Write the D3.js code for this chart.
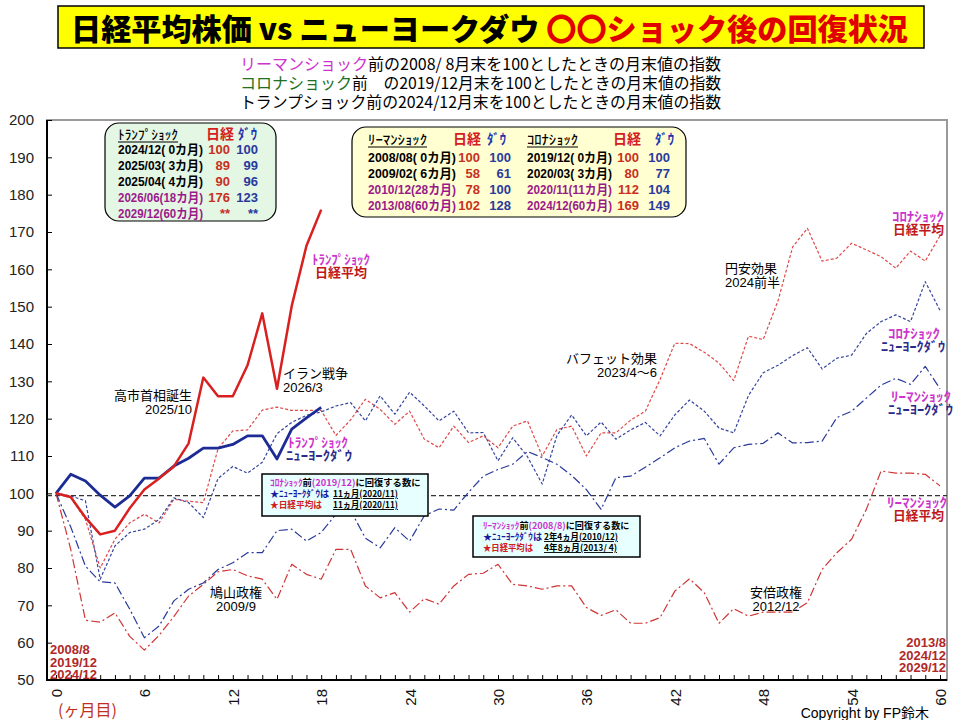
<!DOCTYPE html>
<html><head><meta charset="utf-8">
<script src="https://cdn.jsdelivr.net/npm/d3@7"></script>
<style>body{margin:0;background:#fff}svg{display:block}</style>
</head><body>
<svg id="c" width="960" height="720"></svg>
<script>
// ---------------- data ----------------
const titleMain = "日経平均株価 vs ニューヨークダウ ";
const titleSub = "〇〇ショック後の回復状況";
const monthTicks = d3.range(0, 61);
const xLabelMonths = [0, 6, 12, 18, 24, 30, 36, 42, 48, 54, 60];
const yTicks = [50, 60, 70, 80, 90, 100, 110, 120, 130, 140, 150, 160, 170, 180, 190, 200];
const refLevel = 99.4;

const trumpNikkei = [100, 99, 93.5, 89, 90, 96, 101, 104, 107.2, 113.4, 131, 126, 126, 134.3, 148.2, 128, 150.2, 166.3, 176];
const trumpDow = [100, 105.1, 103.3, 99.5, 96.3, 99.3, 104.1, 104.1, 107.3, 109.4, 112.1, 112.1, 113.1, 115.4, 115.4, 109.2, 117.2, 120.2, 123];

const coronaNikkei = [100, 98.8, 93, 80, 87.7, 92.1, 94.4, 92.1, 98.4, 97.9, 97.5, 112, 116.7, 117, 122.3, 123.1, 122.2, 122.2, 122.2, 115.5,
  119.7, 125.2, 122.5, 118.5, 122, 114.5, 112.2, 118, 113.6, 115.4, 112.2, 118, 119.4, 110, 117.1, 118, 110, 116.2, 116.2, 119.6,
  122, 130.5, 140.2, 140.1, 137.8, 134.9, 130.2, 142.1, 141.2, 151.5, 166, 171, 162.2, 163, 167, 165.2, 163.4, 160.3, 164.9, 162.2, 169];
const coronaDow = [100, 99.3, 98, 77, 85.9, 89.5, 90.4, 93, 98.8, 97.5, 93.5, 104, 107.2, 105.4, 108.3, 116, 119, 120.9, 121.8, 123.4,
  124.3, 119.4, 126.1, 121.2, 127.1, 123.4, 119.4, 122, 116.2, 116.3, 108.7, 114.9, 109.8, 102.5, 115.5, 121, 115.4, 119.1, 114.5, 117,
  119, 115.4, 121, 125, 122, 117.5, 116.2, 126.2, 132.3, 134.3, 136.9, 139, 133.3, 136.2, 137, 142.8, 146, 147.8, 146, 156.7, 149];
const lehmanNikkei = [100, 85, 66, 65.5, 68, 61.7, 58, 62, 67, 72.5, 75.6, 79, 79.6, 77.9, 77, 71.6, 81, 78.3, 77, 85,
  85, 75.2, 72, 73.4, 68.2, 71.8, 70.3, 75.2, 78.3, 78.6, 81, 75.6, 75.2, 74.3, 75.2, 75.2, 69.4, 67.3, 68.8, 65.2,
  65.2, 66.7, 73.8, 77.1, 73.4, 65.2, 69.1, 67.1, 68.2, 68.2, 68.2, 70.7, 79.6, 84.1, 87.7, 95.7, 106, 105.4, 105.4, 105.1, 102];
const lehmanDow = [100, 91, 80.5, 76.3, 76, 69, 61.3, 64.5, 71.2, 74.3, 76, 79.6, 81.4, 84.1, 84.1, 90, 90.4, 87.2, 89.5, 94.4,
  95.4, 88, 85.4, 90.8, 87.2, 94, 95.8, 95.5, 100.3, 104.6, 106.4, 107.8, 111.2, 109.6, 107.8, 104.8, 101, 95.7, 104.2, 104.6,
  107, 109.5, 112.2, 114, 114.7, 107.8, 112.2, 113.1, 113.4, 116.2, 113.5, 113.6, 114, 120.3, 122, 125.5, 129, 130.8, 129.2, 134, 128];

const trumpLabels = ["2024/12( 0カ月)", "2025/03( 3カ月)", "2025/04( 4カ月)", "2026/06(18カ月)", "2029/12(60カ月)"];
const trumpNk = ["100", "89", "90", "176", "**"];
const trumpDw = ["100", "99", "96", "123", "**"];
const lehmanLabels = ["2008/08( 0カ月)", "2009/02( 6カ月)", "2010/12(28カ月)", "2013/08(60カ月)"];
const lehmanNk = ["100", "58", "78", "102"];
const lehmanDw = ["100", "61", "100", "128"];
const coronaLabels = ["2019/12( 0カ月)", "2020/03( 3カ月)", "2020/11(11カ月)", "2024/12(60カ月)"];
const coronaNk = ["100", "80", "112", "169"];
const coronaDw = ["100", "77", "104", "149"];

// ---------------- setup ----------------
const JP = "'Noto Sans CJK JP','Noto Sans',sans-serif";
const NUM = "'Liberation Sans','Noto Sans CJK JP',sans-serif";
const MAG = "#cc33cc", PUR = "#9a1a8a", RED = "#c8301e", BLU = "#2a3a9c", NRED = "#c01818", NAVY = "#2a2a8a";
const svg = d3.select("#c");
const x = d3.scaleLinear().domain([0, 60]).range([56, 940]);
const y = d3.scaleLinear().domain([50, 200]).range([680, 120]);

// one <text> element; each leaf is a tspan (optionally positioned / length-fitted)
function multi(o, leaves) {
  const t = svg.append("text")
    .attr("font-family", o.family || JP).attr("font-size", o.size || 13)
    .attr("font-weight", o.weight || 400).attr("text-anchor", o.anchor || "start");
  if (o.len) t.attr("textLength", o.len).attr("lengthAdjust", "spacingAndGlyphs");
  leaves.forEach(l => {
    const s = t.append("tspan").attr("fill", l.c || "#000").text(l.t);
    if (l.x != null) s.attr("x", l.x);
    if (l.y != null) s.attr("y", l.y);
    if (l.len) s.attr("textLength", l.len).attr("lengthAdjust", "spacingAndGlyphs");
    if (l.u) s.attr("text-decoration", "underline");
    if (l.size) s.attr("font-size", l.size);
    if (l.fam) s.attr("font-family", l.fam);
    if (l.w) s.attr("font-weight", l.w);
  });
  return t;
}

// ---------------- title ----------------
svg.append("rect").attr("x", 58).attr("y", 6).attr("width", 866).attr("height", 42)
  .attr("fill", "#ffff00").attr("stroke", "#000").attr("stroke-width", 1.5);
multi({ size: 30, weight: 900, len: 837 }, [{ t: titleMain, c: "#000", x: 71, y: 40 }, { t: titleSub, c: "#e00000" }]);

multi({ size: 16 }, [
  { t: "リーマンショック", c: MAG, x: 240, y: 70, len: 128 },
  { t: "前の2008/ 8月末を100としたときの月末値の指数", len: 353 },
  { t: "コロナショック", c: "#207020", x: 240, y: 89, len: 112 },
  { t: "前　の2019/12月末を100としたときの月末値の指数", len: 369 },
  { t: "トランプショック前の2024/12月末を100としたときの月末値の指数", x: 240, y: 108, len: 481 }
]);

// ---------------- frame & axes ----------------
svg.append("rect").attr("x", 47).attr("y", 120).attr("width", 900).attr("height", 560)
  .attr("fill", "none").attr("stroke", "#9a9a9a").attr("stroke-width", 2);

const yAx = svg.append("g").attr("transform", "translate(47,0)")
  .call(d3.axisLeft(y).tickValues(yTicks).tickSizeInner(-5).tickSizeOuter(0).tickPadding(13));
yAx.select(".domain").remove();
yAx.selectAll("line").attr("stroke", "#000");
yAx.selectAll("text").attr("font-family", NUM).attr("font-size", 15).attr("fill", "#222");

const xAx = svg.append("g").attr("transform", "translate(0,680)")
  .call(d3.axisBottom(x).tickValues(monthTicks).tickSizeInner(-5).tickSizeOuter(0)
    .tickFormat(d => xLabelMonths.includes(d) ? d : ""));
xAx.select(".domain").remove();
xAx.selectAll("line").attr("stroke", "#000");
xAx.selectAll("text").attr("font-family", NUM).attr("font-size", 15).attr("fill", "#111")
  .attr("transform", "rotate(-90)").attr("text-anchor", "end").attr("x", -9).attr("y", 0).attr("dy", "0.36em");

svg.append("line").attr("x1", 47).attr("x2", 947).attr("y1", 680).attr("y2", 680).attr("stroke", "#000").attr("stroke-width", 2);
svg.append("line").attr("x1", 47).attr("x2", 47).attr("y1", 120).attr("y2", 681).attr("stroke", "#000").attr("stroke-width", 2);

svg.append("line").attr("x1", 47).attr("x2", 947).attr("y1", y(refLevel)).attr("y2", y(refLevel))
  .attr("stroke", "#333").attr("stroke-width", 1.2).attr("stroke-dasharray", "5,3");

// ---------------- series ----------------
const line = d3.line().x((d, i) => x(i)).y(d => y(d));
const series = [
  { d: lehmanNikkei, c: "#d03434", w: 1.2, dash: "9,3,2,3" },
  { d: lehmanDow, c: "#2a3a9a", w: 1.2, dash: "9,3,2,3" },
  { d: coronaNikkei, c: "#e04848", w: 1.2, dash: "3,2" },
  { d: coronaDow, c: "#34449c", w: 1.2, dash: "3,2" },
  { d: trumpDow, c: "#1c2c94", w: 2.8, dash: null },
  { d: trumpNikkei, c: "#d82020", w: 2.5, dash: null }
];
series.forEach(s => {
  const p = svg.append("path").datum(s.d).attr("d", line).attr("fill", "none")
    .attr("stroke", s.c).attr("stroke-width", s.w).attr("stroke-linejoin", "round");
  if (s.dash) p.attr("stroke-dasharray", s.dash);
});

// ---------------- legend boxes ----------------
function column(xp, rows, vals, colorFn, opts) {
  multi(Object.assign({ family: NUM, size: 13, weight: 700 }, opts),
    vals.map((v, i) => ({ t: v, c: colorFn(i), x: xp, y: rows[i], len: opts.lenFn ? opts.lenFn(i) : null })));
}

svg.append("rect").attr("x", 105).attr("y", 123).attr("width", 171).attr("height", 98).attr("rx", 14)
  .attr("fill", "#e4f6e4").attr("stroke", "#000").attr("stroke-width", 1.2);
multi({ size: 13, weight: 500 }, [{ t: "ﾄﾗﾝﾌﾟｼｮｯｸ", x: 118, y: 139, len: 60 }]);
svg.append("line").attr("x1", 118).attr("x2", 178).attr("y1", 142).attr("y2", 142).attr("stroke", "#000");
multi({ size: 14, weight: 700 }, [{ t: "日経", c: "#d42020", x: 206, y: 139 }, { t: "ﾀﾞｳ", c: "#2030b0", x: 238, len: 19 }]);
const tRows = [154, 170, 186, 202, 218];
column(118, tRows, trumpLabels, i => i >= 3 ? PUR : "#000", { lenFn: () => 85 });
column(230, tRows, trumpNk, () => RED, { anchor: "end" });
column(258, tRows, trumpDw, () => BLU, { anchor: "end" });

svg.append("rect").attr("x", 352).attr("y", 127).attr("width", 334).attr("height", 90).attr("rx", 14)
  .attr("fill", "#ffffd2").attr("stroke", "#000").attr("stroke-width", 1.2);
multi({ size: 13, weight: 500 }, [{ t: "ﾘｰﾏﾝｼｮｯｸ", x: 368, y: 144, len: 59 }, { t: "ｺﾛﾅｼｮｯｸ", x: 527, len: 51 }]);
svg.append("line").attr("x1", 368).attr("x2", 427).attr("y1", 147).attr("y2", 147).attr("stroke", "#000");
svg.append("line").attr("x1", 527).attr("x2", 578).attr("y1", 147).attr("y2", 147).attr("stroke", "#000");
multi({ size: 14, weight: 700 }, [
  { t: "日経", c: "#d42020", x: 453, y: 144 }, { t: "ﾀﾞｳ", c: "#2030b0", x: 487, len: 19 },
  { t: "日経", c: "#d42020", x: 613 }, { t: "ﾀﾞｳ", c: "#2030b0", x: 655, len: 19 }
]);
const bRows = [162, 178, 194, 210];
column(368, bRows, lehmanLabels, i => i >= 2 ? PUR : "#000", { lenFn: () => 88 });
column(480, bRows, lehmanNk, () => RED, { anchor: "end" });
column(511, bRows, lehmanDw, () => BLU, { anchor: "end" });
column(527, bRows, coronaLabels, i => i >= 2 ? PUR : "#000", { lenFn: () => 85 });
column(639, bRows, coronaNk, () => RED, { anchor: "end" });
column(670, bRows, coronaDw, () => BLU, { anchor: "end" });

// ---------------- recovery boxes ----------------
svg.append("rect").attr("x", 262).attr("y", 474).attr("width", 166).attr("height", 42)
  .attr("fill", "#e8ffff").attr("stroke", "#000").attr("stroke-width", 1.5);
multi({ size: 9.3, weight: 700 }, [
  { t: "ｺﾛﾅｼｮｯｸ", c: MAG, x: 270, y: 486 }, { t: "前" }, { t: "(2019/12)", c: MAG }, { t: "に回復する数に" },
  { t: "★ﾆｭｰﾖｰｸﾀﾞｳは", c: "#1a1aa0", x: 270, y: 497, len: 59 },
  { t: "11ヵ月(2020/11)", x: 333, u: true, len: 65 },
  { t: "★日経平均は", c: "#d02020", x: 270, y: 508, len: 52 },
  { t: "11ヵ月(2020/11)", x: 333, u: true, len: 65 }
]);

svg.append("rect").attr("x", 473).attr("y", 516).attr("width", 167).attr("height", 41)
  .attr("fill", "#e8ffff").attr("stroke", "#000").attr("stroke-width", 1.5);
multi({ size: 9.1, weight: 700 }, [
  { t: "ﾘｰﾏﾝｼｮｯｸ", c: MAG, x: 483, y: 529 }, { t: "前" }, { t: "(2008/8)", c: MAG }, { t: "に回復する数に" },
  { t: "★ﾆｭｰﾖｰｸﾀﾞｳは", c: "#1a1aa0", x: 483, y: 540, len: 59 },
  { t: "2年4ヵ月(2010/12)", x: 544, u: true, len: 74 },
  { t: "★日経平均は", c: "#d02020", x: 483, y: 551, len: 50 },
  { t: "4年8ヵ月(2013/ 4)", x: 544, u: true, len: 73 }
]);

// ---------------- event annotations ----------------
function note(anchor, xp, y1, a, b) {
  multi({ size: 13, anchor: anchor }, [{ t: a, x: xp, y: y1 }, { t: b, x: xp, y: y1 + 13.5, fam: NUM }]);
}
note("end", 192, 400, "高市首相誕生", "2025/10");
note("start", 283, 378, "イラン戦争", "2026/3");
note("middle", 236, 597, "鳩山政権", "2009/9");
note("end", 657, 363, "バフェット効果", "2023/4〜6");
note("start", 725, 273, "円安効果", "2024前半");
note("middle", 776, 597, "安倍政権", "2012/12");

// ---------------- series labels ----------------
function slabel(x1, x2, y1, a, b, cb, la, lb) {
  multi({ size: 13, weight: 700 }, [{ t: a, c: MAG, x: x1, y: y1, len: la }, { t: b, c: cb, x: x2, y: y1 + 12.5, len: lb }]);
}
slabel(312, 315, 264, "ﾄﾗﾝﾌﾟｼｮｯｸ", "日経平均", NRED, 58, 52);
slabel(288, 286, 447, "ﾄﾗﾝﾌﾟｼｮｯｸ", "ﾆｭｰﾖｰｸﾀﾞｳ", NAVY, 60, 66);
slabel(892, 893, 221, "ｺﾛﾅｼｮｯｸ", "日経平均", NRED, 52, 51);
slabel(888, 881, 338, "ｺﾛﾅｼｮｯｸ", "ﾆｭｰﾖｰｸﾀﾞｳ", NAVY, 52, 64);
slabel(891, 888, 401, "ﾘｰﾏﾝｼｮｯｸ", "ﾆｭｰﾖｰｸﾀﾞｳ", NAVY, 60, 65);
slabel(887, 893, 507, "ﾘｰﾏﾝｼｮｯｸ", "日経平均", NRED, 60, 51);

// ---------------- period labels ----------------
const DR = "#b02828";
multi({ family: NUM, size: 13, weight: 700 }, [
  { t: "2008/8", c: DR, x: 50, y: 654 }, { t: "2019/12", c: DR, x: 50, y: 667 }, { t: "2024/12", c: DR, x: 50, y: 679 }
]);
multi({ family: NUM, size: 13, weight: 700, anchor: "end" }, [
  { t: "2013/8", c: DR, x: 946, y: 647 }, { t: "2024/12", c: DR, x: 946, y: 660 }, { t: "2029/12", c: DR, x: 946, y: 672 }
]);

multi({ size: 16 }, [{ t: "(ヶ月目)", c: "#c03020", x: 58, y: 716 }]);
multi({ family: NUM, size: 14, anchor: "end" }, [{ t: "Copyright by FP鈴木", x: 929, y: 718 }]);
</script>
</body></html>
